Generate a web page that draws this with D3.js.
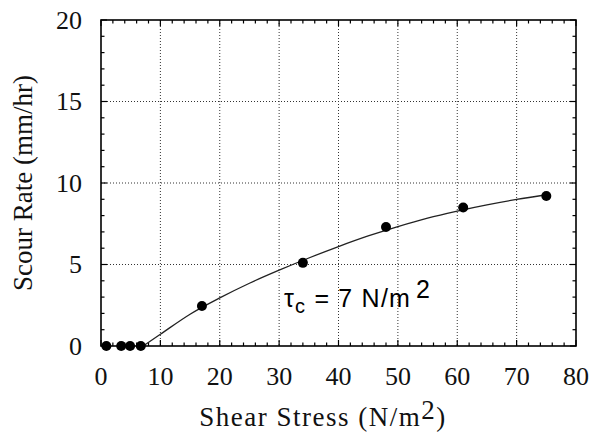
<!DOCTYPE html>
<html>
<head>
<meta charset="utf-8">
<script src="https://cdn.jsdelivr.net/npm/d3@7"></script>
<style>
  html, body { margin: 0; padding: 0; background: #fff; }
  svg { display: block; }
</style>
</head>
<body>
<svg id="chart" width="592" height="434"></svg>
<script>
// Measured scour rates against applied shear stress
const shearStress = [0.9, 3.4, 4.9, 6.7, 17, 34, 48, 61, 75];
const scourRate   = [0, 0, 0, 0, 2.45, 5.1, 7.3, 8.5, 9.2];

// Fitted curve starting at the critical shear stress
const fitStress = [7.1, 10, 15, 20, 25, 30, 35, 40, 45, 50, 55, 60, 65, 70, 75];
const fitRate   = [0, 0.72, 1.95, 2.95, 3.85, 4.65, 5.4, 6.1, 6.75, 7.33, 7.85, 8.28, 8.66, 8.99, 9.28];

const xTicks = [0, 10, 20, 30, 40, 50, 60, 70, 80];
const yTicks = [0, 5, 10, 15, 20];

const svg = d3.select("#chart");
const plotLeft = 101, plotTop = 20, plotRight = 576, plotBottom = 346;

const x = d3.scaleLinear().domain([0, 80]).range([plotLeft, plotRight]);
const y = d3.scaleLinear().domain([0, 20]).range([plotBottom, plotTop]);

const g = svg.append("g");

// dotted grid
g.selectAll(".vgrid").data(xTicks.slice(1, -1)).join("line")
  .attr("x1", d => x(d)).attr("x2", d => x(d))
  .attr("y1", plotTop).attr("y2", plotBottom)
  .attr("stroke", "#333").attr("stroke-width", 1).attr("stroke-dasharray", "1,2");
g.selectAll(".hgrid").data(yTicks.slice(1, -1)).join("line")
  .attr("x1", plotLeft).attr("x2", plotRight)
  .attr("y1", d => y(d)).attr("y2", d => y(d))
  .attr("stroke", "#333").attr("stroke-width", 1).attr("stroke-dasharray", "1,2");

// inward ticks on all four sides
const xMinor = d3.range(0, 80.01, 2);
const yMinor = d3.range(0, 20.01, 1);
const tickLen = (d, step) => (d % step === 0 ? 6 : 3.5);

g.selectAll(".xb").data(xMinor).join("line")
  .attr("x1", d => x(d)).attr("x2", d => x(d))
  .attr("y1", plotBottom).attr("y2", d => plotBottom - tickLen(d, 10))
  .attr("stroke", "#000").attr("stroke-width", 1.2);
g.selectAll(".xt").data(xMinor).join("line")
  .attr("x1", d => x(d)).attr("x2", d => x(d))
  .attr("y1", plotTop).attr("y2", d => plotTop + tickLen(d, 10))
  .attr("stroke", "#000").attr("stroke-width", 1.2);
g.selectAll(".yl").data(yMinor).join("line")
  .attr("y1", d => y(d)).attr("y2", d => y(d))
  .attr("x1", plotLeft).attr("x2", d => plotLeft + tickLen(d, 5))
  .attr("stroke", "#000").attr("stroke-width", 1.2);
g.selectAll(".yr").data(yMinor).join("line")
  .attr("y1", d => y(d)).attr("y2", d => y(d))
  .attr("x1", plotRight).attr("x2", d => plotRight - tickLen(d, 5))
  .attr("stroke", "#000").attr("stroke-width", 1.2);

// frame
g.append("rect")
  .attr("x", plotLeft).attr("y", plotTop)
  .attr("width", plotRight - plotLeft).attr("height", plotBottom - plotTop)
  .attr("fill", "none").attr("stroke", "#000").attr("stroke-width", 1.6);

// tick labels
const serif = "'Liberation Serif', 'Times New Roman', serif";
g.selectAll(".xl").data(xTicks).join("text")
  .attr("x", d => x(d)).attr("y", 385)
  .attr("text-anchor", "middle")
  .attr("font-family", serif).attr("font-size", 26).attr("fill", "#111")
  .text(d => d);
g.selectAll(".ylab").data(yTicks).join("text")
  .attr("x", 82).attr("y", d => y(d))
  .attr("dy", "0.34em")
  .attr("text-anchor", "end")
  .attr("font-family", serif).attr("font-size", 26).attr("fill", "#111")
  .text(d => d);

// axis titles
const xt = g.append("text")
  .attr("x", 323).attr("y", 426)
  .attr("text-anchor", "middle")
  .attr("font-family", serif).attr("font-size", 27).attr("fill", "#111")
  .attr("letter-spacing", "1.5px");
xt.append("tspan").text("Shear Stress (N/m");
xt.append("tspan").attr("dy", -7).text("2");
xt.append("tspan").attr("dy", 7).text(")");

g.append("text")
  .attr("transform", "translate(32," + (plotTop + plotBottom) / 2 + ") rotate(-90)")
  .attr("text-anchor", "middle")
  .attr("font-family", serif).attr("font-size", 27).attr("fill", "#111")
  .text("Scour Rate (mm/hr)");

// fitted curve
const fit = fitStress.map((s, i) => [s, fitRate[i]]);
g.append("path")
  .datum(fit)
  .attr("d", d3.line().x(d => x(d[0])).y(d => y(d[1])).curve(d3.curveMonotoneX))
  .attr("fill", "none").attr("stroke", "#222").attr("stroke-width", 1.3);

// measurements
g.selectAll(".pt").data(shearStress.map((s, i) => [s, scourRate[i]])).join("circle")
  .attr("cx", d => x(d[0])).attr("cy", d => y(d[1]))
  .attr("r", 5).attr("fill", "#000");

// critical shear stress annotation
const sans = "'Liberation Sans', Arial, sans-serif";
const ann = g.append("text")
  .attr("x", 284).attr("y", 307)
  .attr("font-family", sans).attr("font-size", 25).attr("fill", "#000")
  .attr("letter-spacing", "1.2px");
ann.append("tspan").text("τ");
ann.append("tspan").attr("dy", 6).attr("font-size", 20).text("c");
ann.append("tspan").attr("dy", -6).text(" = 7 N/m");
ann.append("tspan").attr("dy", -9).attr("dx", 5).text("2");
</script>
</body>
</html>
